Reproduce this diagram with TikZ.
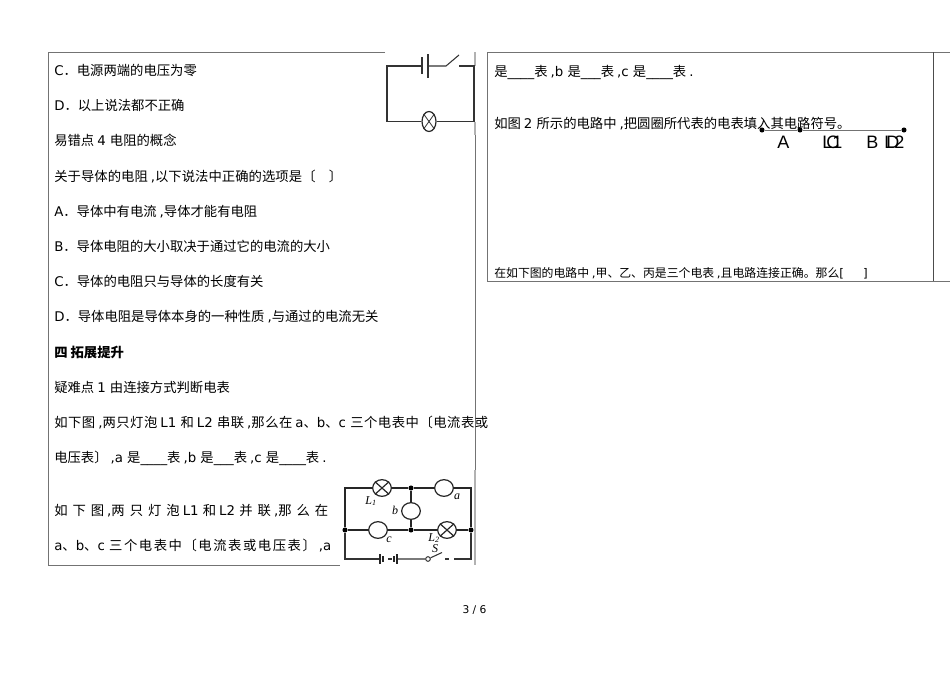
\documentclass[tikz,border=0pt]{standalone}
\usepackage{fontspec}
\setmainfont{DejaVu Sans}
\newfontfamily\lat{DejaVu Sans}
\newfontfamily\cjk{Noto Sans CJK SC}
\newfontfamily\arial{Liberation Sans}
\newfontfamily\serif{Liberation Serif}
\newcount\cc
\newcommand{\setcls}[2]{\cc=#1\relax\loop\XeTeXcharclass\cc=1\relax\ifnum\cc<#2\advance\cc by 1\repeat}
\setcls{"3000}{"303F}
\setcls{"4E00}{"9FFF}
\setcls{"FF00}{"FFEF}
\XeTeXinterchartoks 0 1={\cjk}
\XeTeXinterchartoks 1 0={\lat}
\XeTeXinterchartoks 4095 1={\cjk}
\XeTeXinterchartoks 4095 0={\lat}
\newcommand{\mixed}{\XeTeXinterchartokenstate=1\relax}
\newcommand{\justline}[2]{{\XeTeXinterchartoks 1 1={\hskip 0pt plus 1fil}\hbox to #1{#2}}}
\tikzset{
  txt/.style={anchor=base west,inner sep=0pt,font=\fontsize{10}{12}\selectfont\mixed},
  small/.style={anchor=base west,inner sep=0pt,font=\fontsize{8.9}{10}\selectfont\mixed},
  big/.style={anchor=base west,inner sep=0pt,font=\arial\fontsize{13.5}{15}\selectfont},
  rule/.style={draw=black!55,line width=0.75pt},
  lightrule/.style={draw=black!30,line width=0.9pt},
  wire/.style={draw=black!80,line width=0.8pt},
  thick wire/.style={draw=black!85,line width=1pt},
  dot/.style={circle,fill=black,inner sep=0pt,minimum size=3.8pt},
  lamp/.style={ellipse,draw=black!85,line width=0.9pt,inner sep=0pt,fill=white},
  lbl/.style={inner sep=0pt,font=\serif\fontsize{9}{10}\selectfont\itshape},
}
\usetikzlibrary{shapes.geometric}
\begin{document}
\begin{tikzpicture}[x=0.75pt,y=-0.75pt]
\useasboundingbox (0,0) rectangle (950,672);
% table frames
\coordinate (tl) at (48,52); \coordinate (tr) at (385,52);
\coordinate (bl) at (48,565); \coordinate (br) at (340,565);
\coordinate (rt0) at (475,52); \coordinate (rt) at (475,66);
\coordinate (rm0) at (475,122); \coordinate (rm1) at (475,135);
\coordinate (rm2) at (475,470); \coordinate (rb) at (475,565);
\draw[rule] (tr) -- (tl) -- (bl) -- (br);
\draw[lightrule] (rt0) -- (rt);
\draw[lightrule] (rm0) -- (rm1);
\draw[rule] (rm1) -- (rm2);
\draw[lightrule] (rm2) -- (rb);
\coordinate (a1) at (487,52); \coordinate (a2) at (950,52);
\coordinate (a3) at (950,281); \coordinate (a4) at (487,281);
\coordinate (a5) at (933,52); \coordinate (a6) at (933,281);
\draw[rule] (a2) -- (a1) -- (a4) -- (a3);
\draw[draw=black!70,line width=0.75pt] (a5) -- (a6);
% left column text
\node[txt] (t1) at (54,75) {C．电源两端的电压为零};
\node[txt] (t2) at (54,110) {D．以上说法都不正确};
\node[txt] (t3) at (54,145) {易错点 4 电阻的概念};
\node[txt] (t4) at (54,181) {\justline{216pt}{关于导体的电阻 ,以下说法中正确的选项是〔\hspace{1em}〕}};
\node[txt] (t5) at (54,216) {A．导体中有电流 ,导体才能有电阻};
\node[txt] (t6) at (54,251) {B．导体电阻的大小取决于通过它的电流的大小};
\node[txt] (t7) at (54,286) {C．导体的电阻只与导体的长度有关};
\node[txt] (t8) at (54,321) {D．导体电阻是导体本身的一种性质 ,与通过的电流无关};
\node[txt,font=\fontsize{10}{12}\selectfont\bfseries\mixed] (t9) at (54,357) {四 拓展提升};
\node[txt] (t10) at (54,392) {疑难点 1 由连接方式判断电表};
\node[txt] (t11) at (54,427) {\justline{325.5pt}{如下图 ,两只灯泡 L1 和 L2 串联 ,那么在 a、b、c 三个电表中〔电流表或}};
\node[txt] (t12) at (54,462) {电压表〕 ,a 是\_\_\_\_表 ,b 是\_\_\_表 ,c 是\_\_\_\_表 .};
\node[txt] (t13) at (54,515) {\justline{205.5pt}{如下图 ,两只灯泡 L1 和 L2 并联 ,那么在}};
\node[txt] (t14) at (54,550) {\justline{207.75pt}{a、b、c 三个电表中〔电流表或电压表〕 ,a}};
% right column text
\node[txt] (r1) at (494,76) {是\_\_\_\_表 ,b 是\_\_\_表 ,c 是\_\_\_\_表 .};
\node[txt] (r2) at (494,128) {如图 2 所示的电路中 ,把圆圈所代表的电表填入其电路符号。};
\node[small] (r3) at (494,277) {在如下图的电路中 ,甲、乙、丙是三个电表 ,且电路连接正确。那么[\hspace{1.6em}]};
\node[inner sep=0pt,anchor=base,font=\fontsize{8}{10}\selectfont] (pg) at (474.5,613) {3 / 6};
% upper right circuit fragment
\node[dot] (d1) at (762,130) {};
\node[dot] (d2) at (800,130) {};
\node[dot] (d3) at (904,130) {};
\draw[draw=black!55,line width=0.6pt] (d1) -- (d2) -- (d3);
\node[big] (A) at (777,148) {A};
\node[big] (L1) at (822,148) {L1};
\node[big] (C) at (826,148) {C};
\node[big] (B) at (866,148) {B};
\node[big] (L2) at (884,148) {L2};
\node[big] (D) at (886,148) {D};
% circuit 1
\coordinate (c1a) at (422,66); \coordinate (c1b) at (428,66);
\coordinate (c1c) at (446,66); \coordinate (c1d) at (459,55);
\coordinate (c1e) at (459,66); \coordinate (c1f) at (474,66);
\coordinate (c1g) at (474,121.5); \coordinate (c1h) at (387,121.5);
\coordinate (c1i) at (387,66);
\node[lamp,minimum width=10.5pt,minimum height=15pt] (lamp1) at (429,121.5) {};
\draw[wire] (c1a) -- (c1i) -- (c1h) -- (lamp1) -- (c1g) -- (c1f) -- (c1e);
\draw[wire] (c1b) -- (c1c) -- (c1d);
\draw[wire] (422,57) -- (422,74);
\draw[wire] (428,54) -- (428,78);
\draw[line width=0.6pt,black!80] (lamp1.north west) -- (lamp1.south east) (lamp1.north east) -- (lamp1.south west);
% circuit 2
\coordinate (n1) at (345,488); \coordinate (n2) at (471,488);
\coordinate (n3) at (345,559); \coordinate (n4) at (471,559);
\node[dot] (j1) at (411,488) {};
\node[dot] (j2) at (411,530) {};
\node[dot] (j3) at (345,530) {};
\node[dot] (j4) at (471,530) {};
\node[lamp,minimum width=14pt,minimum height=12.5pt] (L1c) at (382,488) {};
\node[lamp,minimum width=14pt,minimum height=12.5pt] (ac) at (444,488) {};
\node[lamp,minimum width=14pt,minimum height=12.5pt] (bc) at (411,511) {};
\node[lamp,minimum width=14pt,minimum height=12.5pt] (cc) at (378,530) {};
\node[lamp,minimum width=14pt,minimum height=12.5pt] (L2c) at (447,530) {};
\draw[thick wire] (j3) -- (n1) -- (L1c) -- (j1) -- (ac) -- (n2) -- (j4);
\draw[thick wire] (j3) -- (cc) -- (j2) -- (L2c) -- (j4);
\draw[thick wire] (j1) -- (bc) -- (j2);
\draw[line width=0.9pt,black!85] (L1c.north west) -- (L1c.south east) (L1c.north east) -- (L1c.south west);
\draw[line width=0.9pt,black!85] (L2c.north west) -- (L2c.south east) (L2c.north east) -- (L2c.south west);
\node[circle,draw=black!85,line width=0.7pt,inner sep=0pt,minimum size=3.5pt] (sw) at (428,559) {};
\coordinate (swt) at (442,552.5);
\coordinate (b1) at (380,559); \coordinate (b2) at (397,559);
\coordinate (m1) at (388,559); \coordinate (m2) at (392,559);
\coordinate (s1) at (445,559); \coordinate (s2) at (449,559); \coordinate (s3) at (454,559);
\draw[wire] (j3) -- (n3) -- (b1);
\draw[wire] (b2) -- (sw) -- (swt);
\draw[wire] (s1) -- (s2);
\draw[wire] (s3) -- (n4) -- (j4);
\draw[wire] (m1) -- (m2);
\draw[thick wire] (380,554) -- (380,564) (383,556) -- (383,562) (394,556) -- (394,562) (397,554) -- (397,564);
\node[lbl] (lL1) at (371,501) {L\textsubscript{1}};
\node[lbl] (la) at (457,497) {a};
\node[lbl] (lb) at (395,510) {b};
\node[lbl] (lc) at (389,540) {c};
\node[lbl] (lL2) at (434,538) {L\textsubscript{2}};
\node[lbl] (lS) at (435,549) {S};
\end{tikzpicture}
\end{document}
